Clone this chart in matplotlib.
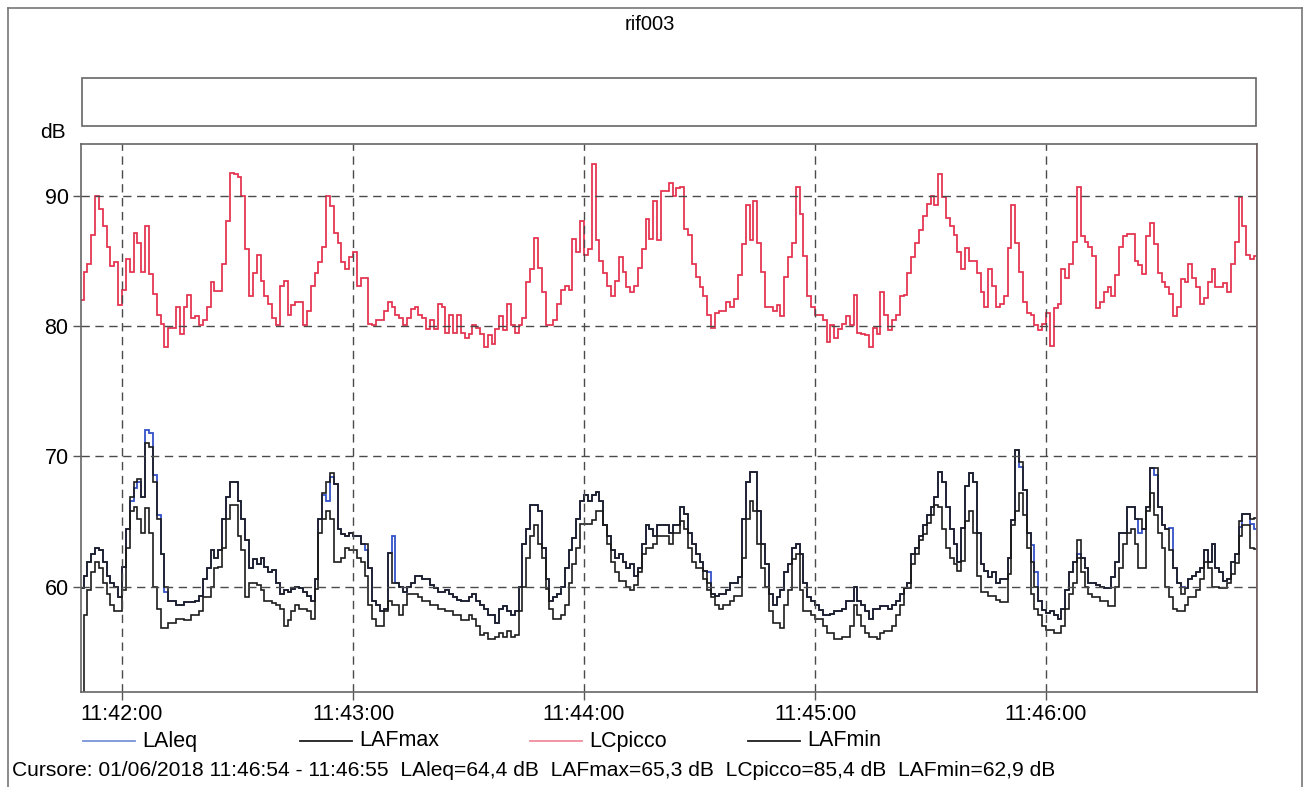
import numpy as np
import matplotlib
matplotlib.use('Agg')
import matplotlib.pyplot as plt
from matplotlib.lines import Line2D
from matplotlib.patches import Rectangle

plt.rcParams['font.family'] = ['Liberation Sans', 'DejaVu Sans']

# one sample per second, first sample 11:41:49 (seconds counted from 11:42:00)
T_START = -11
TICK_POS = [0, 60, 120, 180, 240]
TICK_LABELS = ['11:42:00', '11:43:00', '11:44:00', '11:45:00', '11:46:00']
Y_TICKS = [60, 70, 80, 90]
CURSOR_T = 294.7

LCPICCO = [
    82.0, 84.2, 84.8, 87.0, 90.0, 89.0, 87.7, 86.1, 84.6, 84.9, 81.6,
    82.8, 85.2, 84.2, 87.2, 86.4, 84.2, 87.7, 84.0, 82.5, 80.9,
    80.2, 78.4, 79.9, 79.9, 81.5, 79.4, 81.5, 82.4, 80.6, 80.8,
    80.1, 80.5, 81.5, 83.4, 82.7, 82.7, 84.8, 88.1, 91.8, 91.7,
    91.5, 90.0, 85.9, 82.3, 84.1, 85.5, 83.5, 82.3, 81.7, 80.6,
    80.1, 83.1, 83.5, 80.9, 81.6, 81.9, 81.9, 80.1, 81.2, 83.1,
    84.1, 84.9, 86.1, 90.0, 89.2, 87.2, 86.4, 84.9, 84.4, 85.3,
    85.7, 83.1, 83.7, 83.7, 80.2, 80.1, 80.5, 80.5, 81.2, 81.9,
    81.5, 80.9, 80.6, 80.1, 80.6, 81.3, 81.5, 80.9, 80.6, 79.8,
    80.5, 79.8, 81.7, 81.5, 79.5, 80.9, 79.5, 80.9, 79.5, 79.1,
    79.4, 80.1, 79.9, 79.4, 78.4, 79.3, 78.6, 79.8, 80.8, 79.7,
    81.7, 80.1, 79.5, 80.1, 80.6, 83.4, 84.4, 86.8, 84.5, 82.6,
    80.1, 80.1, 80.5, 81.7, 82.8, 83.1, 82.8, 86.7, 85.7, 88.1,
    85.5, 85.9, 92.5, 86.6, 85.0, 84.1, 83.1, 82.3, 83.5, 85.3,
    84.2, 83.0, 82.6, 83.1, 84.5, 85.9, 88.2, 86.7, 89.6, 86.6,
    90.4, 90.4, 91.0, 90.0, 90.6, 90.7, 87.5, 87.0, 84.8, 83.8,
    83.0, 82.3, 80.9, 79.9, 81.0, 81.2, 81.2, 81.9, 81.5, 82.1,
    83.9, 86.3, 89.3, 86.6, 89.6, 86.4, 84.2, 81.5, 81.5, 81.2,
    81.6, 80.8, 83.8, 85.3, 86.4, 90.7, 88.6, 85.4, 82.3, 81.5,
    80.9, 80.9, 80.5, 78.8, 80.1, 79.1, 79.8, 80.2, 80.8, 80.1,
    82.4, 79.5, 79.4, 79.3, 78.4, 79.9, 79.4, 82.6, 80.9, 79.7,
    80.5, 80.9, 82.3, 82.4, 84.1, 85.3, 86.4, 87.4, 88.5, 89.4,
    90.0, 89.3, 91.7, 89.9, 88.3, 87.7, 87.0, 85.7, 84.4, 86.0,
    85.0, 85.0, 84.1, 82.6, 81.5, 84.4, 83.1, 81.5, 81.7, 82.3,
    86.0, 89.3, 86.4, 84.2, 81.9, 81.0, 80.9, 80.1, 79.7, 80.2,
    81.0, 78.5, 81.4, 81.7, 84.4, 83.7, 84.8, 86.5, 90.7, 86.9,
    86.5, 86.1, 85.4, 81.4, 81.9, 82.6, 83.0, 82.3, 83.9, 86.1,
    86.9, 87.1, 87.1, 85.0, 84.7, 84.0, 86.9, 87.9, 86.3, 84.1,
    83.4, 83.0, 82.5, 80.8, 81.5, 83.6, 83.4, 84.8, 83.7, 83.0,
    81.7, 82.2, 83.4, 84.4, 83.0, 83.0, 83.3, 82.6, 84.8, 86.5,
    89.9, 87.7, 85.5, 85.2, 85.4,
]

LAFMAX = [
    59.9, 60.8, 61.9, 62.5, 63.0, 62.8, 61.9, 60.8, 60.3, 60.0, 59.2,
    61.5, 64.4, 66.9, 68.0, 68.3, 66.9, 71.0, 70.7, 68.0, 65.2,
    62.5, 60.0, 58.9, 58.9, 58.6, 58.6, 58.8, 58.8, 58.8, 58.9,
    59.3, 60.6, 61.4, 62.8, 62.2, 62.8, 65.2, 66.9, 68.0, 68.0,
    66.6, 65.2, 63.6, 61.4, 62.1, 61.7, 62.2, 61.5, 61.1, 61.3,
    60.3, 59.4, 59.7, 59.6, 59.8, 60.0, 59.9, 59.6, 59.3, 58.9,
    60.6, 65.2, 67.2, 68.0, 68.7, 67.9, 64.4, 64.0, 63.9, 64.1,
    63.9, 63.9, 63.3, 63.3, 61.4, 58.9, 58.6, 58.1, 58.3, 62.6,
    60.3, 60.3, 60.0, 59.6, 60.0, 60.3, 60.8, 60.8, 60.6, 60.6,
    60.1, 59.9, 59.6, 59.6, 59.7, 59.4, 59.2, 59.0, 58.9, 58.9,
    59.2, 59.4, 58.9, 58.6, 58.3, 57.8, 57.8, 57.2, 58.3, 58.5,
    58.1, 57.8, 58.1, 60.0, 63.3, 64.4, 66.3, 66.3, 65.8, 63.0,
    60.6, 58.9, 59.2, 59.4, 60.0, 61.4, 62.8, 63.7, 65.2, 66.6,
    67.0, 66.6, 67.0, 67.3, 66.6, 64.7, 63.9, 62.8, 62.2, 62.5,
    61.9, 61.4, 61.7, 60.8, 61.4, 63.3, 64.7, 64.4, 63.9, 64.7,
    64.7, 64.7, 64.1, 64.7, 64.7, 66.1, 65.6, 64.1, 63.3, 62.5,
    61.9, 61.2, 60.3, 59.4, 59.3, 59.4, 59.4, 59.7, 60.3, 60.3,
    60.7, 65.2, 68.0, 68.8, 68.8, 65.8, 63.3, 61.7, 59.4, 58.6,
    59.2, 59.7, 61.1, 61.7, 63.0, 63.3, 62.5, 60.3, 59.2, 58.9,
    58.6, 58.2, 57.8, 57.8, 57.9, 58.1, 58.1, 58.3, 58.9, 58.9,
    60.0, 58.9, 58.6, 58.1, 57.5, 58.3, 58.3, 58.5, 58.5, 58.3,
    58.6, 58.9, 59.4, 59.9, 60.3, 62.5, 63.0, 63.9, 64.7, 65.5,
    66.1, 66.9, 68.8, 68.0, 66.1, 64.4, 63.3, 61.9, 64.5, 67.7,
    68.7, 68.0, 64.1, 61.7, 61.2, 60.7, 61.1, 60.3, 60.6, 60.6,
    62.2, 65.1, 70.5, 69.6, 67.4, 64.1, 61.9, 60.0, 58.9, 58.2,
    58.0, 58.1, 57.8, 57.5, 58.3, 59.7, 61.1, 61.9, 63.6, 62.2,
    61.4, 60.3, 60.3, 60.1, 60.0, 59.9, 59.9, 60.7, 61.9, 64.1,
    64.1, 66.1, 66.1, 65.2, 65.2, 64.4, 66.1, 69.1, 69.1, 66.1,
    64.7, 64.4, 62.8, 61.4, 60.3, 59.4, 59.9, 60.6, 60.8, 61.1,
    61.4, 62.8, 61.9, 63.3, 61.4, 61.1, 60.4, 60.6, 61.9, 62.5,
    65.0, 65.6, 65.6, 65.2, 65.3,
]

LAEQ = [
    59.9, 60.8, 61.9, 62.5, 63.0, 62.8, 61.9, 60.8, 60.3, 60.0, 59.2,
    61.5, 64.4, 66.6, 67.6, 68.0, 66.9, 72.0, 71.8, 68.6, 65.5,
    62.5, 59.6, 58.9, 58.9, 58.6, 58.6, 58.8, 58.8, 58.8, 58.9,
    59.3, 60.6, 61.4, 62.8, 62.2, 62.8, 65.2, 66.9, 68.0, 68.0,
    66.6, 65.2, 63.6, 61.4, 62.1, 61.7, 62.2, 61.5, 61.1, 61.3,
    60.3, 59.4, 59.7, 59.6, 59.8, 60.0, 59.9, 59.6, 59.3, 58.9,
    60.6, 65.2, 67.0, 66.6, 68.4, 67.9, 64.4, 64.0, 63.9, 64.1,
    63.9, 63.9, 63.3, 62.8, 61.4, 58.9, 58.6, 58.1, 58.3, 62.6,
    63.9, 60.3, 60.0, 59.6, 60.0, 60.3, 60.8, 60.8, 60.6, 60.6,
    60.1, 59.9, 59.6, 59.6, 59.7, 59.4, 59.2, 59.0, 58.9, 58.9,
    59.2, 59.4, 58.9, 58.6, 58.3, 57.8, 57.8, 57.2, 58.3, 58.5,
    58.1, 57.8, 58.1, 60.0, 63.3, 64.4, 66.3, 66.3, 65.8, 63.0,
    60.6, 58.9, 59.2, 59.4, 60.0, 61.4, 62.8, 63.7, 65.2, 66.6,
    67.0, 66.6, 67.0, 67.3, 66.6, 64.7, 63.9, 62.8, 62.2, 62.5,
    61.9, 61.4, 61.7, 60.8, 61.4, 63.3, 64.7, 64.4, 63.9, 64.7,
    64.7, 64.7, 64.1, 64.7, 64.7, 66.1, 65.6, 64.1, 63.3, 62.5,
    61.9, 61.2, 61.1, 59.4, 59.3, 59.4, 59.4, 59.7, 60.3, 60.3,
    60.7, 65.2, 68.0, 68.8, 68.8, 65.8, 63.3, 61.7, 59.4, 58.6,
    59.2, 59.7, 61.1, 61.7, 63.0, 63.3, 62.5, 60.3, 59.2, 58.9,
    58.6, 58.2, 57.8, 57.8, 57.9, 58.1, 58.1, 58.3, 58.9, 58.9,
    60.0, 58.9, 58.6, 58.1, 57.5, 58.3, 58.3, 58.5, 58.5, 58.3,
    58.6, 58.9, 59.4, 59.9, 60.3, 62.5, 63.0, 63.9, 64.7, 65.5,
    66.1, 66.9, 68.8, 68.0, 66.1, 64.4, 63.3, 61.9, 64.5, 67.7,
    68.7, 68.0, 64.1, 61.7, 61.2, 60.7, 61.1, 60.3, 60.6, 60.6,
    62.2, 65.1, 70.5, 69.2, 67.4, 64.1, 63.2, 61.1, 58.9, 58.2,
    58.0, 58.1, 57.8, 57.5, 58.3, 59.7, 61.1, 61.9, 62.5, 62.2,
    61.4, 60.3, 60.3, 60.1, 60.0, 59.9, 59.9, 60.7, 61.9, 64.1,
    64.1, 66.1, 66.1, 65.2, 64.1, 64.4, 66.1, 69.1, 68.6, 66.1,
    64.7, 64.4, 64.5, 61.4, 60.3, 60.0, 59.9, 60.6, 60.8, 61.1,
    61.4, 62.8, 61.9, 63.3, 61.4, 61.1, 60.4, 60.6, 61.9, 62.5,
    64.6, 65.6, 65.6, 64.8, 64.4,
]

LAFMIN = [
    50.0, 57.8, 59.7, 61.1, 61.9, 61.4, 60.3, 59.4, 58.6, 58.1, 58.1,
    59.7, 63.0, 65.8, 66.1, 65.2, 64.1, 66.0, 64.1, 60.0, 58.3,
    56.8, 56.8, 57.2, 57.2, 57.5, 57.5, 57.4, 57.4, 57.8, 57.8,
    58.1, 59.2, 59.2, 60.0, 61.4, 61.5, 63.0, 65.2, 66.3, 66.3,
    63.9, 62.8, 59.2, 60.3, 60.3, 60.1, 59.7, 58.9, 58.9, 58.7,
    58.6, 58.3, 57.0, 57.4, 58.1, 58.6, 58.3, 58.3, 58.1, 57.5,
    59.8, 64.1, 65.2, 65.8, 65.2, 61.9, 61.9, 62.2, 63.0, 62.8,
    62.8, 62.2, 61.9, 60.8, 58.6, 57.5, 57.0, 57.0, 58.1, 58.9,
    58.6, 58.6, 57.8, 58.6, 59.4, 59.4, 59.4, 59.2, 58.9, 58.9,
    58.6, 58.6, 58.3, 58.3, 58.1, 58.1, 57.8, 57.8, 57.4, 57.4,
    57.8, 57.5, 57.0, 56.3, 56.4, 56.0, 56.0, 56.1, 56.4, 56.1,
    56.6, 56.1, 56.3, 58.1, 60.0, 62.2, 63.9, 64.7, 63.3, 62.2,
    59.8, 58.3, 57.5, 57.5, 57.8, 58.6, 60.3, 61.7, 63.0, 64.8,
    64.8, 64.8, 65.1, 65.8, 65.8, 64.7, 63.3, 61.9, 61.1, 60.4,
    60.4, 60.0, 59.7, 60.1, 61.1, 62.5, 63.0, 63.0, 63.3, 63.9,
    63.9, 63.9, 63.3, 64.1, 64.1, 65.0, 64.4, 63.0, 61.9, 61.4,
    61.4, 60.6, 59.7, 59.2, 58.6, 58.3, 58.6, 58.6, 58.9, 59.3,
    59.3, 62.2, 65.2, 66.6, 65.8, 63.3, 61.4, 60.0, 58.1, 57.2,
    57.2, 56.8, 58.6, 59.7, 62.1, 62.5, 59.7, 58.1, 58.1, 57.8,
    57.5, 57.5, 57.0, 56.4, 56.4, 56.0, 56.0, 56.1, 56.1, 57.0,
    58.6, 57.8, 57.0, 56.4, 56.1, 56.1, 56.0, 56.4, 56.6, 56.6,
    57.0, 57.8, 58.6, 59.9, 59.9, 61.7, 62.5, 63.6, 64.0, 64.9,
    65.5, 66.3, 66.1, 64.4, 63.0, 62.2, 61.7, 61.2, 62.0, 65.0,
    65.8, 64.1, 60.8, 59.6, 59.6, 59.3, 59.3, 59.0, 58.8, 58.8,
    61.0, 64.7, 65.8, 67.2, 65.5, 63.0, 59.4, 58.3, 57.8, 57.0,
    56.7, 56.7, 56.4, 56.4, 57.0, 58.3, 59.4, 60.3, 62.2, 61.1,
    60.0, 59.4, 59.2, 59.2, 58.9, 58.9, 58.5, 58.5, 60.0, 61.4,
    63.3, 64.1, 64.4, 63.3, 61.4, 61.4, 65.8, 67.2, 65.5, 64.1,
    63.0, 60.0, 59.2, 58.3, 58.1, 58.1, 58.6, 59.2, 59.2, 59.7,
    60.6, 61.9, 61.4, 60.0, 60.0, 59.9, 59.9, 60.3, 61.0, 61.8,
    63.9, 64.7, 64.7, 63.0, 62.9,
]

RED = '#e3304c'
BLUE = '#3450c8'
BLACK = '#1c1c1c'

edges = T_START + np.arange(len(LAFMAX) + 1)

W, H = 1310, 787
fig = plt.figure(figsize=(W / 100, H / 100), dpi=100)

ax = fig.add_axes([81 / W, 1 - 692 / H, 1176 / W, 548 / H])
ax.stairs(LAEQ, edges, baseline=None, color=BLUE, lw=1.3)
ax.stairs(LAFMAX, edges, baseline=None, color=BLACK, lw=1.2)
ax.stairs(LAFMIN, edges, baseline=None, color=BLACK, lw=1.2)
ax.stairs(LCPICCO, edges, baseline=None, color=RED, lw=1.25)
ax.axvline(CURSOR_T, color=RED, lw=1.3)

ax.set_xlim(-10.65, 294.8)
ax.set_ylim(51.9, 94.0)
ax.set_xticks(TICK_POS)
ax.set_xticklabels(TICK_LABELS)
ax.set_yticks(Y_TICKS)
ax.grid(True, color='#4a4a4a', linestyle=(0, (6, 4)), lw=1.0)
ax.tick_params(direction='out', length=6, width=1, color='#555555',
               labelsize=15.5, pad=3)
for s in ax.spines.values():
    s.set_color('#666666')
    s.set_linewidth(1.2)

# header: outer frame, title, empty box, unit
fig.add_artist(Line2D([8 / W, 1302 / W], [1 - 8 / H, 1 - 8 / H], color='#777777', lw=1.2))
fig.add_artist(Line2D([8 / W, 8 / W], [0, 1 - 8 / H], color='#777777', lw=1.2))
fig.add_artist(Line2D([1302 / W, 1302 / W], [0, 1 - 8 / H], color='#777777', lw=1.2))
fig.text(650 / W, 1 - 25 / H, 'rif003', ha='center', va='center', fontsize=14.5)
fig.add_artist(Rectangle((82 / W, 1 - 126 / H), 1174 / W, 48 / H, fill=False,
                         edgecolor='#666666', lw=1.2, transform=fig.transFigure))
fig.text(40 / W, 1 - 133 / H, 'dB', ha='left', va='center', fontsize=15)

# legend row
legend_items = [('LAleq', '#7894d8', 83), ('LAFmax', BLACK, 300),
                ('LCpicco', '#f08c9c', 530), ('LAFmin', BLACK, 748)]
for name, col, x0 in legend_items:
    y = 1 - 741 / H
    fig.add_artist(Line2D([x0 / W, (x0 + 52) / W], [y, y], color=col, lw=1.3))
    fig.text((x0 + 59) / W, y, name, ha='left', va='center', fontsize=15.5)

fig.text(12 / W, 1 - 771 / H,
         'Cursore: 01/06/2018 11:46:54 - 11:46:55  LAleq=64,4 dB  LAFmax=65,3 dB  '
         'LCpicco=85,4 dB  LAFmin=62,9 dB',
         ha='left', va='center', fontsize=15.1)

fig.savefig('out.png', dpi=100)
